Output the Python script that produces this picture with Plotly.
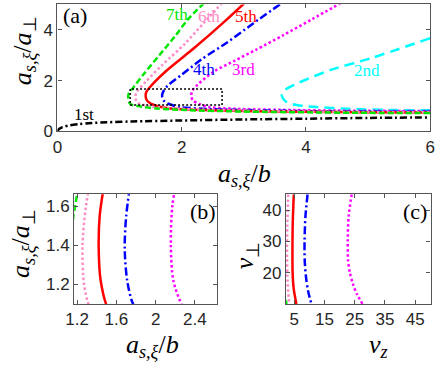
import plotly.graph_objects as go

W, H = 443, 375

# ---------------- data: panel (a) / (b)  (x = a_{s,xi}/b, y = a_{s,xi}/a_perp)
m1_x = [0, 0.02, 0.05, 0.1, 0.2, 0.35, 0.5, 0.8, 1.2, 2, 3, 4, 5, 6]
m1_y = [0.0, 0.08, 0.13, 0.18, 0.24, 0.29, 0.32, 0.36, 0.39, 0.43, 0.47, 0.5, 0.53, 0.55]

m2_x = [6.0, 5.03, 4.41, 3.89, 3.67, 3.61, 3.63, 3.69, 3.85, 4.05, 4.67, 5.45, 6.0]
m2_y = [3.67, 2.87, 2.43, 1.92, 1.65, 1.45, 1.3, 1.15, 1.04, 0.98, 0.89, 0.84, 0.83]

m3_x = [4.56, 4.10, 3.63, 3.20, 2.85, 2.52, 2.26, 2.17, 2.155, 2.18, 2.28, 2.44, 2.85, 3.58, 4.5, 6.0]
m3_y = [5.05, 4.42, 3.78, 3.22, 2.78, 2.36, 1.85, 1.6, 1.4, 1.22, 1.08, 0.96, 0.89, 0.85, 0.82, 0.8]

m4_x = [3.58, 3.15, 2.73, 2.31, 2.0, 1.77, 1.70, 1.685, 1.71, 1.77, 1.97, 2.34, 3.0, 4.0, 5.0, 6.0]
m4_y = [5.0, 4.25, 3.5, 2.82, 2.23, 1.79, 1.55, 1.38, 1.22, 1.1, 0.96, 0.89, 0.84, 0.8, 0.78, 0.77]

m5_x = [3.01, 2.67, 2.21, 1.74, 1.48, 1.43, 1.42, 1.44, 1.51, 1.65, 1.82, 2.2, 3.0, 4.0, 5.0, 6.0]
m5_y = [5.05, 4.28, 3.3, 2.36, 1.72, 1.55, 1.38, 1.22, 1.08, 0.97, 0.9, 0.85, 0.8, 0.77, 0.75, 0.74]

m6_x = [2.65, 2.36, 2.05, 1.69, 1.43, 1.29, 1.255, 1.27, 1.33, 1.45, 1.7, 2.2, 3.0, 4.0, 5.0, 6.0]
m6_y = [5.05, 4.28, 3.45, 2.62, 1.98, 1.6, 1.4, 1.2, 1.08, 1.0, 0.93, 0.87, 0.82, 0.78, 0.76, 0.75]

m7_x = [2.36, 2.10, 1.90, 1.64, 1.38, 1.22, 1.15, 1.14, 1.17, 1.29, 1.6, 2.08, 3.0, 4.0, 5.0, 6.0]
m7_y = [5.05, 4.41, 3.77, 3.0, 2.23, 1.72, 1.5, 1.34, 1.08, 1.0, 0.9, 0.84, 0.78, 0.75, 0.73, 0.72]

box_x = [1.17, 2.65]
box_y = [1.04, 1.67]

labels_a = ["1st", "2nd", "3rd", "4th", "5th", "6th", "7th"]
label_x = [0.42, 4.98, 2.99, 2.36, 3.04, 2.44, 1.92]
label_y = [0.66, 2.38, 2.43, 2.43, 4.53, 4.53, 4.6]

# ---------------- data: panel (c)  (v_z, v_perp)
c3_vz = [24.0, 23.0, 22.7, 22.8, 23.4, 24.4, 25.8, 27.6]
c3_vp = [45, 38, 30, 24, 20, 16.4, 13, 10]
c4_vz = [9.4, 8.7, 8.4, 8.45, 8.9, 9.6, 10.7]
c4_vp = [45, 38, 30, 24, 18.5, 14, 10]
c5_vz = [4.84, 4.5, 4.4, 4.45, 4.8, 5.7]
c5_vp = [45, 36, 28, 20, 15, 10]
c6_vz = [3.0, 2.7, 2.6, 2.8, 3.3]
c6_vp = [45, 35, 25, 17, 10]
c7_vz = [2.2, 2.45]
c7_vp = [11.2, 10]

# ---------------- styles
LW = 2.5
sty = {
    1: dict(color="black", dash="7px,3px,2px,3px"),
    2: dict(color="#00FFFF", dash="10px,6px"),
    3: dict(color="#FF00FF", dash="2.5px,2.5px"),
    4: dict(color="#0000FF", dash="8px,3px,2px,3px"),
    5: dict(color="#FF0000", dash="solid"),
    6: dict(color="#FF8CC6", dash="2.5px,2.5px"),
    7: dict(color="#00E600", dash="6px,3px"),
}

fig = go.Figure()

def add(x, y, k, xa, ya):
    fig.add_trace(go.Scatter(x=x, y=y, mode="lines", xaxis=xa, yaxis=ya,
                             line=dict(color=sty[k]["color"], dash=sty[k]["dash"], width=LW,
                                       shape="spline", smoothing=0.8),
                             showlegend=False, hoverinfo="skip", cliponaxis=True))

data_ab = {1: (m1_x, m1_y), 2: (m2_x, m2_y), 3: (m3_x, m3_y), 4: (m4_x, m4_y),
           5: (m5_x, m5_y), 6: (m6_x, m6_y), 7: (m7_x, m7_y)}
for k in [2, 3, 4, 5, 6, 7, 1]:
    add(*data_ab[k], k, "x", "y")
for k in [3, 4, 5, 6, 7]:
    add(*data_ab[k], k, "x2", "y2")
data_c = {3: (c3_vz, c3_vp), 4: (c4_vz, c4_vp), 5: (c5_vz, c5_vp), 6: (c6_vz, c6_vp), 7: (c7_vz, c7_vp)}
for k in [3, 4, 5, 6, 7]:
    add(*data_c[k], k, "x3", "y3")

# zoom box in (a)
fig.add_shape(type="rect", xref="x", yref="y", x0=box_x[0], x1=box_x[1], y0=box_y[0], y1=box_y[1],
              line=dict(color="black", width=1.5, dash="2px,2px"))

def px2x(p):
    return p / W

def px2y(p):
    return 1 - p / H

AX = dict(showline=True, linecolor="#555555", linewidth=1.2, mirror="ticks", ticks="inside",
          ticklen=4, tickcolor="#555555", showgrid=False, zeroline=False,
          tickfont=dict(family="Liberation Sans", size=17, color="#262626"))

fig.update_layout(
    width=W, height=H, margin=dict(l=0, r=0, t=0, b=0),
    paper_bgcolor="white", plot_bgcolor="white", showlegend=False,
    xaxis=dict(AX, domain=[px2x(50), px2x(435)], range=[0, 6], tickvals=[0, 2, 4, 6], anchor="y"),
    yaxis=dict(AX, domain=[px2y(135), px2y(4.5)], range=[0, 5], tickvals=[0, 2, 4], anchor="x"),
    xaxis2=dict(AX, domain=[px2x(67.3), px2x(215.3)], range=[1.17, 2.63],
                tickvals=[1.2, 1.6, 2, 2.4], ticktext=["1.2", "1.6", "2", "2.4"], anchor="y2"),
    yaxis2=dict(AX, domain=[px2y(312.3), px2y(199.7)], range=[1.1, 1.66],
                tickvals=[1.2, 1.4, 1.6], anchor="x2"),
    xaxis3=dict(AX, domain=[px2x(286), px2x(435.3)], range=[2.25, 50.1],
                tickvals=[5, 15, 25, 35, 45], anchor="y3"),
    yaxis3=dict(AX, domain=[px2y(312.3), px2y(199.7)], range=[10, 45],
                tickvals=[20, 30, 40], anchor="x3"),
)

SERIF = "Liberation Serif"
ann = []
for t, x, y, k in zip(labels_a, label_x, label_y, [1, 2, 3, 4, 5, 6, 7]):
    ann.append(dict(x=x, y=y, xref="x", yref="y", text=t, showarrow=False,
                    xanchor="center", yanchor="middle",
                    font=dict(family=SERIF, size=17, color=sty[k]["color"])))

def pann(xp, yp, text, size, angle=0):
    ann.append(dict(x=px2x(xp), y=px2y(yp), xref="paper", yref="paper", text=text, showarrow=False,
                    xanchor="center", yanchor="middle", textangle=angle,
                    font=dict(family=SERIF, size=size, color="black")))

pann(68, 16, "(a)", 22)
pann(200, 217, "(b)", 22)
pann(419, 217, "(c)", 22)

xlab = "<i>a</i><sub><i>s,ξ</i></sub>/<i>b</i>"
ylab = "<i>a</i><sub><i>s,ξ</i></sub>/<i>a</i><sub>⊥</sub>"
TS = 26
pann(243, 180, xlab, TS)
pann(15, 52, ylab, TS, -90)
pann(148, 355, xlab, TS)
pann(14, 250, ylab, TS, -90)
pann(382, 355, "<i>v</i><sub><i>z</i></sub>", TS)
pann(245, 262, "<i>v</i><sub>⊥</sub>", TS, -90)

fig.update_layout(annotations=ann)
fig.write_html("out.html", config={"displayModeBar": False},
               post_script="document.body.style.margin='0';document.body.style.padding='0';"
                           "document.documentElement.style.overflow='hidden';")
